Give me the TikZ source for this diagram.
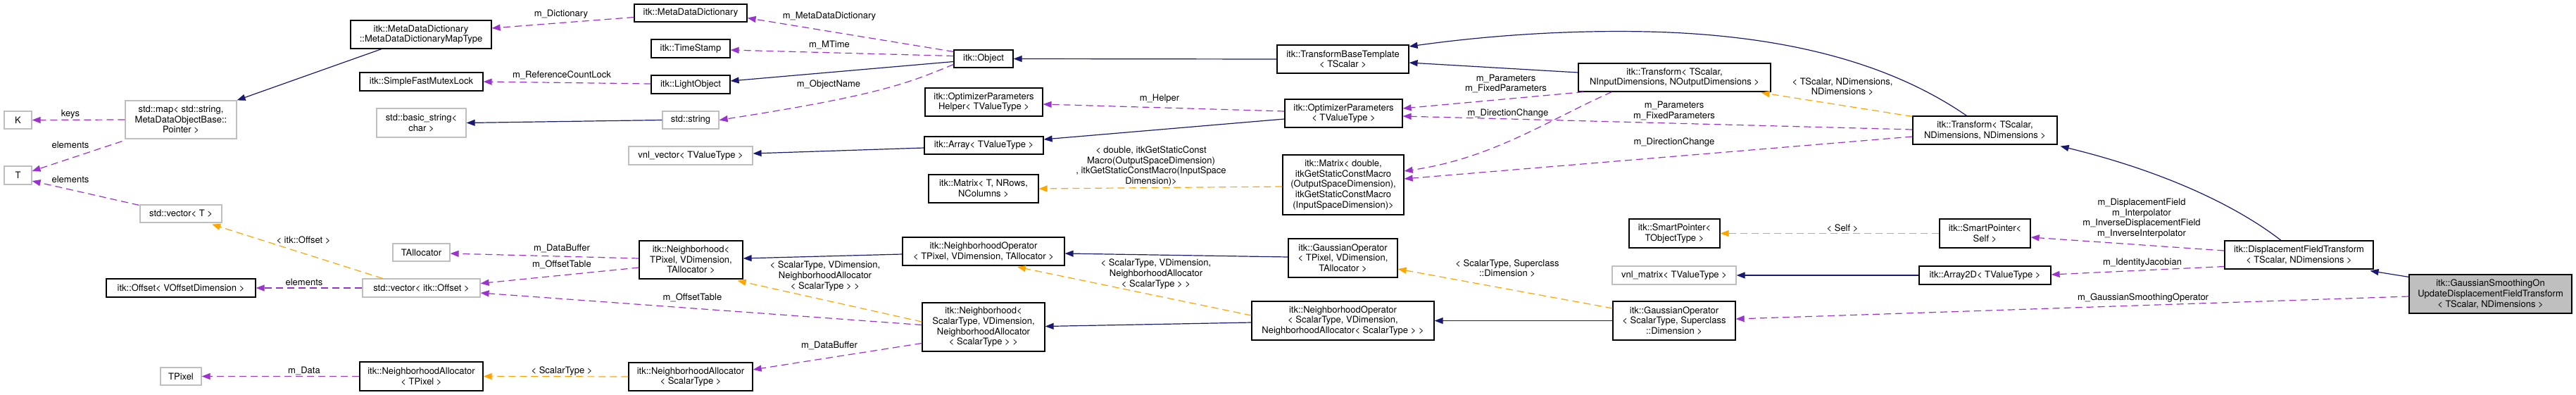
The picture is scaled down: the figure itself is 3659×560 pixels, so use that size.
\documentclass[tikz,border=0pt]{standalone}
\usepackage{fontspec}
\setmainfont{TeX Gyre Heros}
\usetikzlibrary{arrows.meta,calc}
\definecolor{navy}{HTML}{191970}
\definecolor{purp}{HTML}{9A32CD}
\definecolor{orng}{HTML}{FFA500}
\definecolor{greyS}{HTML}{BFBFBF}
\tikzset{
  txt/.style={font=\fontsize{13}{14.6}\selectfont},
  box/.style={txt, draw=black, fill=white, line width=1.2pt, inner sep=0pt, align=center},
  gbox/.style={box, draw=greyS},
  hbox/.style={box, fill=greyS},
  lbl/.style={txt, inner sep=0pt, align=center},
  tip/.style={-{Triangle[length=12pt,width=9pt]}},
  inh/.style={tip, draw=navy, line width=1.2pt},
  use/.style={tip, draw=purp, line width=1.2pt, dash pattern=on 10pt off 6pt},
  tmpl/.style={tip, draw=orng, line width=1.2pt, dash pattern=on 10pt off 6pt}
}
\begin{document}
\begin{tikzpicture}[x=1pt,y=-1pt]
\path[use as bounding box] (0,0) rectangle (3659,560);
% ---- nodes
\node[gbox, minimum width=39pt, minimum height=25pt] (K) at (25.5,170.5) {K};
\node[gbox, minimum width=39pt, minimum height=26pt] (T) at (25.5,249) {T};
\node[gbox, minimum width=158pt, minimum height=54pt] (map) at (257,170) {std::map< std::string,\\ MetaDataObjectBase::\\Pointer >};
\node[gbox, minimum width=116pt, minimum height=25pt] (vecT) at (257,303.5) {std::vector< T >};
\node[box, minimum width=212pt, minimum height=26pt] (offsetV) at (257,409) {itk::Offset< VOffsetDimension >};
\node[gbox, minimum width=58pt, minimum height=25pt] (TPixel) at (257,534.5) {TPixel};
\node[box, minimum width=200pt, minimum height=40pt] (MapType) at (598,49) {itk::MetaDataDictionary\\::MetaDataDictionaryMapType};
\node[box, minimum width=175pt, minimum height=26pt] (Mutex) at (598.5,116) {itk::SimpleFastMutexLock};
\node[gbox, minimum width=127pt, minimum height=41pt] (basicstr) at (598.5,174.5) {std::basic\_string<\\ char >};
\node[gbox, minimum width=81pt, minimum height=25pt] (TAlloc) at (598.5,358.5) {TAllocator};
\node[gbox, minimum width=167pt, minimum height=26pt] (vecOff) at (598.5,409) {std::vector< itk::Offset >};
\node[box, minimum width=175pt, minimum height=41pt] (NAllocTPixel) at (598.5,534.5) {itk::NeighborhoodAllocator\\< TPixel >};
\node[box, minimum width=160pt, minimum height=25pt] (MDD) at (981,18.5) {itk::MetaDataDictionary};
\node[box, minimum width=112pt, minimum height=26pt] (TimeStamp) at (981,69) {itk::TimeStamp};
\node[box, minimum width=112pt, minimum height=26pt] (LightObject) at (981,120) {itk::LightObject};
\node[gbox, minimum width=80pt, minimum height=25pt] (stdstring) at (981,170.5) {std::string};
\node[gbox, minimum width=176pt, minimum height=26pt] (vnlvec) at (981,221) {vnl\_vector< TValueType >};
\node[box, minimum width=147pt, minimum height=54pt] (NbhTPixel) at (981.5,369) {itk::Neighborhood<\\ TPixel, VDimension,\\ TAllocator >};
\node[box, minimum width=176pt, minimum height=40pt] (NAllocScalar) at (981,535) {itk::NeighborhoodAllocator\\< ScalarType >};
\node[box, minimum width=84pt, minimum height=25pt] (Object) at (1397,83.5) {itk::Object};
\node[box, minimum width=167pt, minimum height=40pt] (OPHelper) at (1397.5,145) {itk::OptimizerParameters\\Helper< TValueType >};
\node[box, minimum width=169pt, minimum height=25pt] (Array) at (1397.5,206.5) {itk::Array< TValueType >};
\node[box, minimum width=156pt, minimum height=40pt] (MatrixT) at (1397,268) {itk::Matrix< T, NRows,\\ NColumns >};
\node[box, minimum width=230pt, minimum height=40pt] (NOpTPixel) at (1397,357) {itk::NeighborhoodOperator\\< TPixel, VDimension, TAllocator >};
\node[box, minimum width=174pt, minimum height=69pt] (NbhScalar) at (1397,464.5) {itk::Neighborhood<\\ ScalarType, VDimension,\\ NeighborhoodAllocator\\< ScalarType > >};
\node[box, minimum width=187pt, minimum height=40pt] (TBT) at (1907.5,84) {itk::TransformBaseTemplate\\< TScalar >};
\node[box, minimum width=167pt, minimum height=40pt] (OptParams) at (1908.5,161) {itk::OptimizerParameters\\< TValueType >};
\node[box, minimum width=172pt, minimum height=85pt] (MatrixD) at (1908,262.5) {itk::Matrix< double,\\ itkGetStaticConstMacro\\(OutputSpaceDimension),\\ itkGetStaticConstMacro\\(InputSpaceDimension)>};
\node[box, minimum width=155pt, minimum height=55pt] (GOpTPixel) at (1907.5,366.5) {itk::GaussianOperator\\< TPixel, VDimension,\\ TAllocator >};
\node[box, minimum width=259pt, minimum height=55pt] (NOpScalar) at (1907.5,455.5) {itk::NeighborhoodOperator\\< ScalarType, VDimension,\\ NeighborhoodAllocator< ScalarType > >};
\node[box, minimum width=273pt, minimum height=40pt] (TransformIO) at (2378.5,110) {itk::Transform< TScalar,\\ NInputDimensions, NOutputDimensions >};
\node[box, minimum width=129pt, minimum height=41pt] (SPT) at (2378.5,331.5) {itk::SmartPointer<\\ TObjectType >};
\node[gbox, minimum width=176pt, minimum height=26pt] (vnlmat) at (2378,391) {vnl\_matrix< TValueType >};
\node[box, minimum width=174pt, minimum height=55pt] (GOpScalar) at (2378,455.5) {itk::GaussianOperator\\< ScalarType, Superclass\\::Dimension >};
\node[box, minimum width=205pt, minimum height=40pt] (TransformNN) at (2819.5,185) {itk::Transform< TScalar,\\ NDimensions, NDimensions >};
\node[box, minimum width=129pt, minimum height=41pt] (SPSelf) at (2819.5,331.5) {itk::SmartPointer<\\Self >};
\node[box, minimum width=187pt, minimum height=26pt] (Array2D) at (2819.5,391) {itk::Array2D< TValueType >};
\node[box, minimum width=211pt, minimum height=40pt] (DFT) at (3265.5,362) {itk::DisplacementFieldTransform\\< TScalar, NDimensions >};
\node[hbox, minimum width=231pt, minimum height=55pt] (GSO) at (3537.5,417.5) {itk::GaussianSmoothingOn\\UpdateDisplacementFieldTransform\\< TScalar, NDimensions >};
% ---- edges
\draw[inh] ($(MapType.south)+(-56,0)$) -- (map.north east);
\draw[use] (map.west) -- (K.east);
\draw[use] ($(map.south west)+(-4,3)$) -- ($(T.east)+(0,-6)$);
\draw[use] ($(vecT.north west)+(-1,1)$) -- ($(T.east)+(0,8)$);
\draw[tmpl] ($(vecOff.north west)+(29,0)$) -- ($(vecT.south east)+(-14.5,2)$);
\draw[use] (vecOff.west) -- (offsetV.east);
\draw[use] (NAllocTPixel.west) -- (TPixel.east);
\draw[use] ($(MDD.west)+(0,6)$) -- ($(MapType.east)+(0,-9)$);
\draw[use] ($(LightObject.west)+(0,-1)$) -- (Mutex.east);
\draw[inh] (stdstring.west) -- (basicstr.east);
\draw[use] ($(NbhTPixel.west)+(0,-2)$) -- ($(TAlloc.east)+(0,1.5)$);
\draw[use] ($(NbhTPixel.west)+(0,11)$) -- ($(vecOff.east)+(0,-6.5)$);
\draw[tmpl] (NAllocScalar.west) -- (NAllocTPixel.east);
\draw[use] ($(Object.north west)+(0,3)$) -- ($(MDD.east)+(0,7)$);
\draw[use] ($(Object.west)+(0,-4)$) -- ($(TimeStamp.east)+(0,2)$);
\draw[inh] ($(Object.west)+(0,4)$) -- ($(LightObject.east)+(0,-5)$);
\draw[use] ($(Object.west)+(0,8)$) .. controls (1290,118) and (1250,135) .. (stdstring.east);
\draw[inh] ($(Array.west)+(0,3.5)$) -- ($(vnlvec.east)+(0,-3)$);
\draw[use] ($(NbhScalar.west)+(0,-3)$) -- ($(vecOff.east)+(0,7)$);
\draw[tmpl] ($(NbhScalar.west)+(0,-7.5)$) -- ($(NbhTPixel.south east)+(-8,2)$);
\draw[use] ($(NbhScalar.west)+(0,23)$) -- ($(NAllocScalar.east)+(0,-10)$);
\draw[inh] (TBT.west) -- (Object.east);
\draw[use] ($(OptParams.west)+(0,-3)$) -- ($(OPHelper.east)+(0,3)$);
\draw[inh] ($(OptParams.west)+(0,8)$) -- ($(Array.east)+(0,-8.5)$);
\draw[tmpl] ($(MatrixD.west)+(0,2.5)$) -- (MatrixT.east);
\draw[inh] ($(NOpTPixel.west)+(0,4)$) -- ($(NbhTPixel.east)+(0,-2)$);
\draw[inh] ($(NOpScalar.west)+(0,2.5)$) -- ($(NbhScalar.east)+(0,-1)$);
\draw[tmpl] ($(NOpScalar.west)+(0,-7.5)$) -- ($(NOpTPixel.south)+(48,1.5)$);
\draw[inh] ($(GOpTPixel.west)+(0,-1.5)$) -- ($(NOpTPixel.east)+(0,3)$);
\draw[inh] (GOpScalar.west) -- (NOpScalar.east);
\draw[tmpl] ($(GOpScalar.north west)+(0,10.5)$) -- ($(GOpTPixel.east)+(0,15.5)$);
\draw[inh] ($(TransformIO.west)+(0,-7)$) -- ($(TBT.east)+(0,5)$);
\draw[use] ($(TransformIO.south west)+(8,0)$) -- ($(OptParams.east)+(0,-7)$);
\draw[use] ($(TransformIO.south west)+(48,0)$) .. controls (2200,170) and (2120,225) .. ($(MatrixD.east)+(0,-19.5)$);
\draw[inh] ($(TransformNN.north)+(-26,0)$) .. controls (2700,100) and (2560,50) .. (2340,45) .. controls (2200,42) and (2080,55) .. ($(TBT.east)+(0,-18)$);
\draw[use] ($(TransformNN.west)+(0,-1)$) -- ($(OptParams.east)+(0,4)$);
\draw[use] ($(TransformNN.west)+(0,9)$) -- ($(MatrixD.east)+(0,-8.5)$);
\draw[tmpl] ($(TransformNN.north west)+(0,1)$) -- ($(TransformIO.south east)+(-14,1)$);
\draw[tmpl] (SPSelf.west) -- (SPT.east);
\draw[inh] (Array2D.west) -- (vnlmat.east);
\draw[inh] ($(DFT.north)+(-25.5,0)$) .. controls (3180,295) and (3080,245) .. ($(TransformNN.south east)+(4,2)$);
\draw[use] ($(DFT.west)+(0,-6)$) -- ($(SPSelf.east)+(0,5.5)$);
\draw[use] ($(DFT.west)+(0,16.5)$) -- ($(Array2D.east)+(0,-1)$);
\draw[inh] ($(GSO.north west)+(0,4)$) -- ($(DFT.south east)+(-5,2)$);
\draw[use] ($(GSO.west)+(0,3.5)$) -- ($(GOpScalar.east)+(0,-2.5)$);
% ---- labels
\node[lbl] (l1) at (100,162.5) {keys};
\node[lbl] (l2) at (100,206) {elements};
\node[lbl] (l3) at (100,255) {elements};
\node[lbl] (l4) at (431,341) {< itk::Offset >};
\node[lbl] (l5) at (432,401) {elements};
\node[lbl] (l6) at (432,527) {m\_Data};
\node[lbl] (l7) at (797,20) {m\_Dictionary};
\node[lbl] (l8) at (798,107) {m\_ReferenceCountLock};
\node[lbl] (l9) at (798,352.5) {m\_DataBuffer};
\node[lbl] (l10) at (798,376) {m\_OffsetTable};
\node[lbl] (l11) at (798,527) {< ScalarType >};
\node[lbl] (l12) at (1178,23) {m\_MetaDataDictionary};
\node[lbl] (l13) at (1178,64) {m\_MTime};
\node[lbl] (l14) at (1177,120) {m\_ObjectName};
\node[lbl] (l15) at (983.5,423) {m\_OffsetTable};
\node[lbl] (l16) at (1172,392) {< ScalarType, VDimension,\\NeighborhoodAllocator\\< ScalarType > >};
\node[lbl] (l17) at (1178,491) {m\_DataBuffer};
\node[lbl] (l18) at (1647,140) {m\_Helper};
\node[lbl] (l19) at (1635,236) {< double, itkGetStaticConst\\Macro(OutputSpaceDimension)\\, itkGetStaticConstMacro(InputSpace\\Dimension)>};
\node[lbl] (l20) at (1642,389) {< ScalarType, VDimension,\\NeighborhoodAllocator\\< ScalarType > >};
\node[lbl] (l21) at (2139,119) {m\_Parameters\\m\_FixedParameters};
\node[lbl] (l22) at (2142,161) {m\_DirectionChange};
\node[lbl] (l23) at (2378,157.5) {m\_Parameters\\m\_FixedParameters};
\node[lbl] (l24) at (2378,202) {m\_DirectionChange};
\node[lbl] (l25) at (2141,381) {< ScalarType, Superclass\\::Dimension >};
\node[lbl] (l26) at (2617,123) {< TScalar, NDimensions,\\NDimensions >};
\node[lbl] (l27) at (2617,324) {< Self >};
\node[lbl] (l28) at (3042,310) {m\_DisplacementField\\m\_Interpolator\\m\_InverseDisplacementField\\m\_InverseInterpolator};
\node[lbl] (l29) at (3043,373) {m\_IdentityJacobian};
\node[lbl] (l30) at (3044,423) {m\_GaussianSmoothingOperator};
\end{tikzpicture}
\end{document}
